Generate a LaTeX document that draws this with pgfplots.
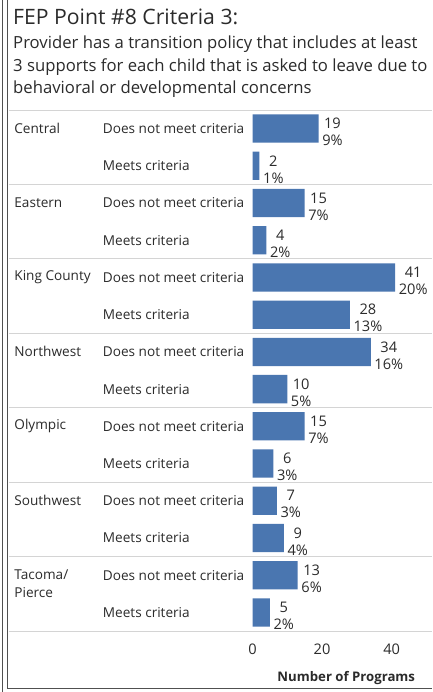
\documentclass[border=0pt]{standalone}
\usepackage{fontspec}
\setmainfont{Open Sans}
\usepackage{pgfplots}
\usepackage{pgfplotstable}
\pgfplotsset{compat=1.18}
\definecolor{barblue}{HTML}{4A76B0}
\definecolor{sepgray}{HTML}{D4D4D4}
\definecolor{txt}{HTML}{2B2B2B}
\definecolor{frame}{HTML}{505050}

\pgfplotstableread{
y val pct
0 19 9
1 2 1
2 15 7
3 4 2
4 41 20
5 28 13
6 34 16
7 10 5
8 15 7
9 6 3
10 7 3
11 9 4
12 13 6
13 5 2
}\datatable

\newcommand{\rowfont}{\fontsize{13.6}{16.5}\selectfont}
\newcommand{\valfont}{\fontsize{14.6}{17}\selectfont}

\begin{document}
\begin{tikzpicture}[x=1pt,y=1pt]
\useasboundingbox (0,0) rectangle (432,692);
\fill[white] (0,0) rectangle (432,692);
% frame
\draw[line width=1pt, frame] (2,0) -- (2,692);
\draw[line width=1pt, frame] (7,692) -- (7,3) -- (432,3);
% titles
\node[anchor=base west, inner sep=0, text=txt, font=\fontsize{21.2}{26}\selectfont] at (13,667) {FEP Point \#8 Criteria 3:};
\node[anchor=base west, inner sep=0, text=txt, font=\fontsize{16.7}{20}\selectfont] at (13,643) {Provider has a transition policy that includes at least};
\node[anchor=base west, inner sep=0, text=txt, font=\fontsize{16.7}{20}\selectfont] at (13,620.5) {3 supports for each child that is asked to leave due to};
\node[anchor=base west, inner sep=0, text=txt, font=\fontsize{16.7}{20}\selectfont] at (13,598) {behavioral or developmental concerns};

\begin{axis}[
  at={(252.5pt,61pt)}, anchor=south west, scale only axis,
  width=179.5pt, height=521pt,
  xbar, bar width=0.76, bar shift=0pt,
  y dir=reverse, ymin=-0.5, ymax=13.5,
  xmin=0, xmax=51.6,
  clip=false,
  axis line style={draw=none},
  tick style={draw=none},
  ytick={0,...,13},
  yticklabels={Does not meet criteria, Meets criteria, Does not meet criteria, Meets criteria, Does not meet criteria, Meets criteria, Does not meet criteria, Meets criteria, Does not meet criteria, Meets criteria, Does not meet criteria, Meets criteria, Does not meet criteria, Meets criteria},
  yticklabel style={anchor=west, xshift=-145.5pt, inner sep=0, font=\rowfont, text=txt},
  xtick={0,20,40},
  xticklabel style={font=\valfont, text=txt, yshift=-9pt},
  /pgf/number format/assume math mode=true,
  xlabel={\bfseries Number of Programs},
  xlabel style={font=\fontsize{13.2}{16}\selectfont, text=txt, yshift=-10pt, xshift=4pt},
  point meta=x,
  visualization depends on={\thisrow{pct} \as \pct},
  nodes near coords={\pgfmathprintnumber{\pgfplotspointmeta}\\\pgfmathprintnumber{\pct}\%},
  nodes near coords style={align=center, anchor=west, font=\valfont, text=txt, yshift=-3.5pt, inner sep=3.5pt},
]
\addplot[fill=barblue, draw=none] table[x=val, y=y] {\datatable};

\draw[sepgray, line width=0.8pt] (axis cs:-70,-0.5) -- (axis cs:51.6,-0.5);
\draw[sepgray, line width=0.8pt] (axis cs:-70,1.5) -- (axis cs:51.6,1.5);
\draw[sepgray, line width=0.8pt] (axis cs:-70,3.5) -- (axis cs:51.6,3.5);
\draw[sepgray, line width=0.8pt] (axis cs:-70,5.5) -- (axis cs:51.6,5.5);
\draw[sepgray, line width=0.8pt] (axis cs:-70,7.5) -- (axis cs:51.6,7.5);
\draw[sepgray, line width=0.8pt] (axis cs:-70,9.5) -- (axis cs:51.6,9.5);
\draw[sepgray, line width=0.8pt] (axis cs:-70,11.5) -- (axis cs:51.6,11.5);
\draw[sepgray, line width=0.8pt] (axis cs:-70,13.5) -- (axis cs:51.6,13.5);

\node[anchor=west, inner sep=0, font=\rowfont, text=txt] at (axis cs:-68.5,0) {Central};
\node[anchor=west, inner sep=0, font=\rowfont, text=txt] at (axis cs:-68.5,2) {Eastern};
\node[anchor=west, inner sep=0, font=\rowfont, text=txt] at (axis cs:-68.5,4) {King County};
\node[anchor=west, inner sep=0, font=\rowfont, text=txt] at (axis cs:-68.5,6) {Northwest};
\node[anchor=west, inner sep=0, font=\rowfont, text=txt] at (axis cs:-68.5,8) {Olympic};
\node[anchor=west, inner sep=0, font=\rowfont, text=txt] at (axis cs:-68.5,10) {Southwest};
\node[anchor=west, inner sep=0, font=\rowfont, text=txt] at (axis cs:-68.5,12) {Tacoma/};
\node[anchor=west, inner sep=0, font=\rowfont, text=txt] at (axis cs:-68.5,12.46) {Pierce};
\end{axis}
\end{tikzpicture}
\end{document}
